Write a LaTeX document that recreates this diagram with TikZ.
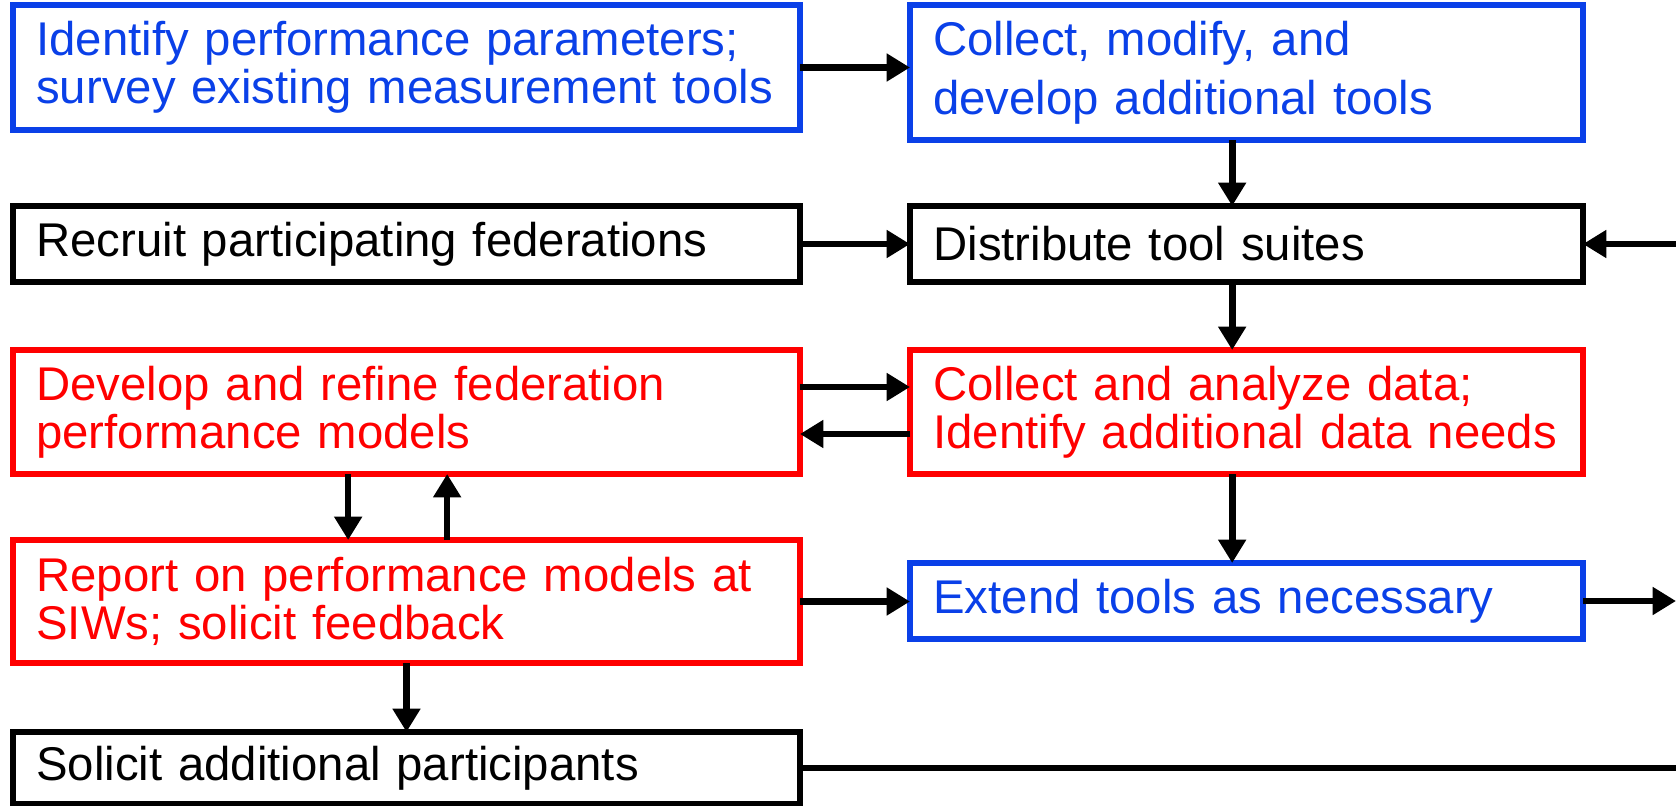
\documentclass[tikz,border=0pt]{standalone}
\usepackage{fontspec}
\setmainfont{Liberation Sans}
\usetikzlibrary{arrows.meta}
\definecolor{toolblue}{RGB}{10,64,232}
\definecolor{modelred}{RGB}{255,0,0}

\begin{document}
\begin{tikzpicture}[x=0.3pt,y=-0.3pt,
    box/.style={draw, line width=1.6pt, anchor=north west, outer sep=0pt, inner xsep=7pt, inner ysep=0pt,
      align=left, font=\fontsize{14.2}{14.3}\selectfont},
    leftcol/.style={box, text width=222.1pt},
    rightcol/.style={box, text width=187.9pt},
    arr/.style={line width=2pt, -{Triangle[length=7pt,width=8pt]}}]
  \useasboundingbox (0,0) rectangle (1676,806);

  \node(ident)[leftcol, toolblue, minimum height=37.5pt] at (13,5)
    {Identify performance parameters;\\survey existing measurement tools};
  \node(collect)[rightcol, toolblue, minimum height=40.5pt,
    font=\fontsize{14.2}{17.6}\selectfont] at (910,5)
    {Collect, modify, and\\develop additional tools};
  \node(recruit)[leftcol, minimum height=22.8pt] at (13,206) {Recruit participating federations};
  \node(distrib)[rightcol, minimum height=22.8pt] at (910,206) {Distribute tool suites};
  \node(develop)[leftcol, modelred, minimum height=37.2pt] at (13,350)
    {Develop and refine federation\\performance models};
  \node(analyze)[rightcol, modelred, minimum height=37.2pt] at (910,350)
    {Collect and analyze data;\\Identify additional data needs};
  \node(report)[leftcol, modelred, minimum height=36.9pt] at (13,540)
    {Report on performance models at\\SIWs; solicit feedback};
  \node(extend)[rightcol, toolblue, minimum height=22.8pt] at (910,563) {Extend tools as necessary};
  \node(solicit)[leftcol, minimum height=21.6pt] at (13,732) {Solicit additional participants};

  % loose ends past the right border
  \coordinate(exitout) at (1676,601);
  \coordinate(loopback) at (1700,244);

  \draw[arr] (ident.east) -- (ident.east -| collect.west);
  \draw[arr] ([xshift=-4.3pt]collect.south) -- ([xshift=-4.3pt]distrib.north);
  \draw[arr] (recruit.east) -- (distrib.west);
  \draw[arr] ([xshift=-4.3pt]distrib.south) -- ([xshift=-4.3pt]analyze.north);
  \draw[arr] ([yshift=7.5pt]develop.east) -- ([yshift=7.5pt]analyze.west);
  \draw[arr] ([yshift=-6.6pt]analyze.west) -- ([yshift=-6.6pt]develop.east);
  \draw[arr] ([xshift=-17.5pt]develop.south) -- ([xshift=-17.5pt]report.north);
  \draw[arr] ([xshift=12.2pt]report.north) -- ([xshift=12.2pt]develop.south);
  \draw[arr] ([xshift=-4.3pt]analyze.south) -- ([xshift=-4.3pt]extend.north);
  \draw[arr] (report.east) -- (report.east -| extend.west);
  \draw[arr] (extend.east) -- (extend.east -| exitout);
  \draw[arr] (report.south) -- (solicit.north);
  \draw[arr] (solicit.east) -- (solicit.east -| loopback) -- (distrib.east -| loopback) -- (distrib.east);
\end{tikzpicture}
\end{document}
